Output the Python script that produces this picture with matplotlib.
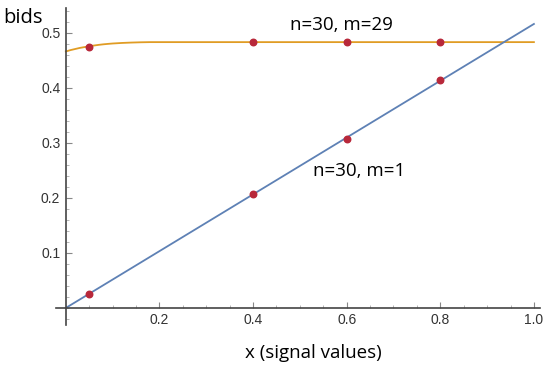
import matplotlib
matplotlib.use("Agg")
from matplotlib import pyplot as plt
from matplotlib.ticker import MultipleLocator

# curve n=30, m=29
x_m29 = [0.0, 0.01, 0.02, 0.03, 0.04, 0.05, 0.06, 0.07, 0.08, 0.09, 0.10,
         0.12, 0.14, 0.16, 0.18, 0.20, 0.40, 0.60, 0.80, 1.0]
y_m29 = [0.466, 0.4685, 0.4705, 0.4725, 0.474, 0.4755, 0.4768, 0.478, 0.479,
         0.4798, 0.4805, 0.4815, 0.4822, 0.4827, 0.483, 0.483, 0.483, 0.483,
         0.483, 0.483]

# straight line n=30, m=1
x_m1 = [0.0, 1.0]
y_m1 = [0.0, 0.516]

# simulated bids (red dots)
dot_x = [0.05, 0.4, 0.6, 0.8, 0.05, 0.4, 0.6, 0.8]
dot_y = [0.475, 0.483, 0.483, 0.483, 0.026, 0.207, 0.307, 0.415]

plt.rcParams['font.family'] = ['Liberation Sans', 'DejaVu Sans']
label_font = ['Open Sans', 'DejaVu Sans']
axis_col = '#444444'

fig = plt.figure(figsize=(5.5, 3.68), dpi=100)
ax = fig.add_axes([56 / 550, 43 / 368, 484 / 550, 317 / 368])

ax.plot(x_m29, y_m29, color='#e09c24', lw=1.3)
ax.plot(x_m1, y_m1, color='#5e81b5', lw=1.3)
ax.scatter(dot_x, dot_y, s=22, color='#b8283a', zorder=3)

ax.set_xlim(-0.021, 1.013)
ax.set_ylim(-0.031, 0.545)

for s in ['top', 'right']:
    ax.spines[s].set_visible(False)
ax.spines['left'].set_position(('data', 0))
ax.spines['bottom'].set_position(('data', 0))
for s in ['left', 'bottom']:
    ax.spines[s].set_color(axis_col)
    ax.spines[s].set_linewidth(1.2)

ax.xaxis.set_minor_locator(MultipleLocator(0.05))
ax.yaxis.set_minor_locator(MultipleLocator(0.02))
ax.set_xticks([0.2, 0.4, 0.6, 0.8, 1.0])
ax.set_xticklabels(['0.2', '0.4', '0.6', '0.8', '1.0'])
ax.set_yticks([0.1, 0.2, 0.3, 0.4, 0.5])
ax.set_yticklabels(['0.1', '0.2', '0.3', '0.4', '0.5'])
ax.tick_params(which='major', direction='in', length=4, color='#888888',
               labelsize=10, labelcolor='#333333', pad=4)
ax.tick_params(which='minor', direction='in', length=2, color='#aaaaaa')

ax.text(0.588, 0.515, 'n=30, m=29', fontsize=13.5, ha='center', va='center',
        family=label_font)
ax.text(0.626, 0.249, 'n=30, m=1', fontsize=13.5, ha='center', va='center',
        family=label_font)

fig.text(23 / 550, 1 - 18 / 368, 'bids', fontsize=14.5, ha='center', va='center',
         family=label_font)
fig.text(313 / 550, 1 - 353 / 368, 'x (signal values)', fontsize=13.5,
         ha='center', va='center', family=label_font)

fig.savefig('out.png', dpi=100)
